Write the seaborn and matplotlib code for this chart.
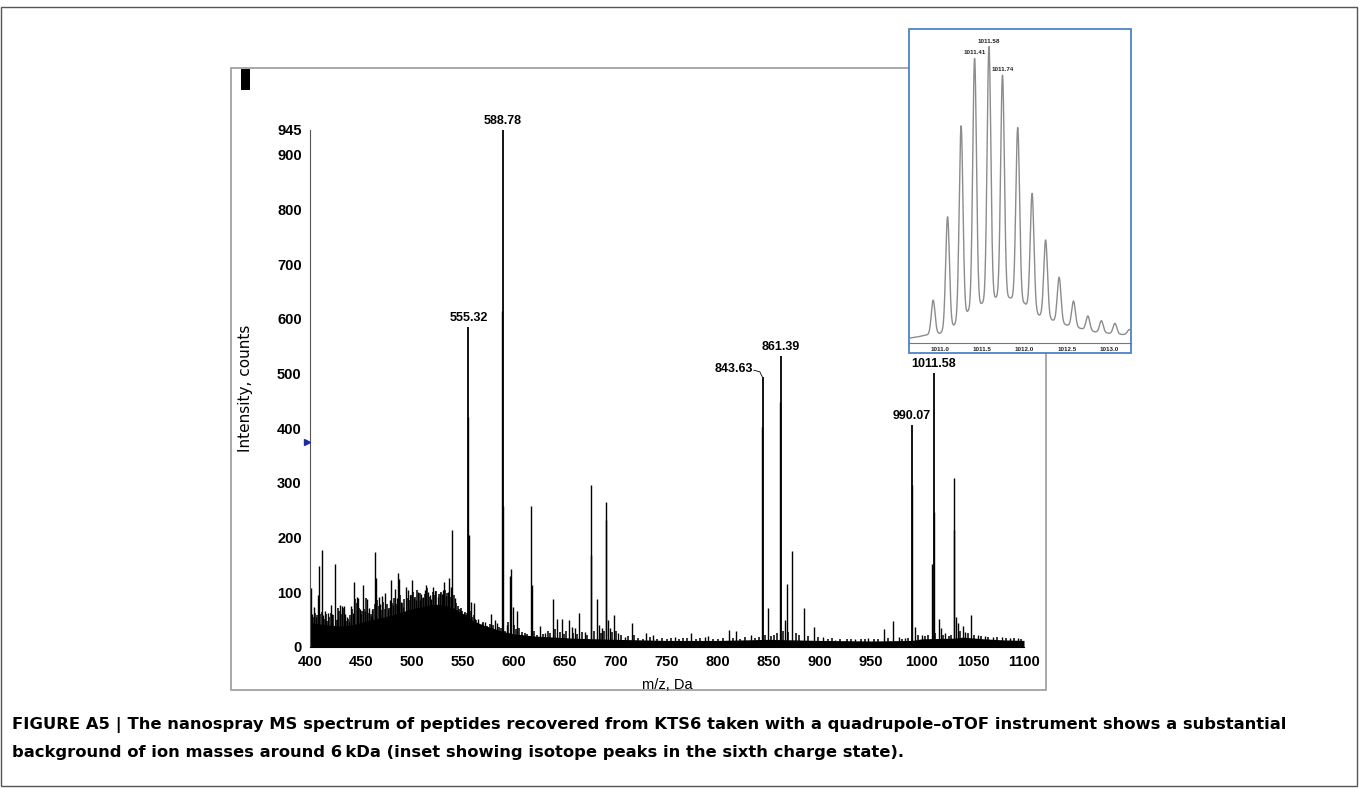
# Nanospray MS spectrum of KTS6 peptides with isotope-cluster inset
import matplotlib
matplotlib.use("Agg")
import matplotlib.pyplot as plt
from matplotlib.patches import Rectangle
import numpy as np
import pandas as pd
import seaborn as sns

# solid background level under the spectrum (m/z, counts)
bg_mz = [400, 410, 420, 430, 440, 450, 460, 470, 480, 490, 500, 510, 520, 530, 540,
         550, 560, 570, 580, 590, 600, 620, 640, 660, 680, 700, 750, 800, 850, 900,
         950, 990, 1000, 1030, 1040, 1060, 1080, 1100]
bg_int = [45, 42, 40, 38, 40, 45, 50, 54, 58, 64, 70, 74, 78, 78, 72,
          60, 48, 40, 34, 28, 24, 20, 18, 16, 15, 14, 12, 12, 14, 12,
          11, 12, 15, 16, 18, 15, 13, 12]

# dense low-level signal
grass_mz = [401, 403, 405, 407, 410, 412, 414, 416, 417, 419, 421, 423, 425, 427, 428,
            430, 432, 435, 437, 439, 441, 444, 446, 448, 450, 451, 453, 455, 457, 460,
            462, 464, 466, 468, 470, 472, 474, 475, 477, 480, 482, 484, 488, 490, 492,
            495, 497, 499, 501, 503, 505, 508, 510, 513, 515, 518, 521, 522, 524, 526,
            528, 532, 534, 537, 541, 543, 545, 546, 548, 549, 550, 552, 553, 554, 556,
            557, 559, 561, 562, 563, 566, 570, 574, 576, 579, 585, 587, 591, 594, 600,
            602, 605, 608, 611, 613, 620, 623, 628, 633, 635, 640, 645, 649, 651, 658,
            662, 667, 672, 678, 685, 688, 696, 700, 705, 712, 718, 722, 726, 733, 740,
            745, 750, 754, 762, 766, 770, 778, 782, 795, 800, 805, 815, 822, 826, 836,
            840, 846, 852, 855, 858, 864, 869, 876, 879, 888, 898, 908, 912, 920, 926,
            930, 940, 944, 953, 957, 967, 980, 986, 996, 1003, 1006, 1013, 1021, 1026,
            1028, 1037, 1045, 1051, 1058, 1065, 1074, 1082, 1090, 1097]
grass_int = [70, 55, 62, 58, 60, 64, 52, 60, 48, 55, 62, 58, 50, 72, 66,
             60, 72, 48, 52, 58, 70, 88, 80, 72, 60, 66, 70, 90, 62, 60,
             70, 78, 85, 75, 68, 82, 70, 78, 72, 80, 90, 78, 95, 80, 88,
             90, 85, 95, 100, 92, 105, 98, 90, 96, 108, 92, 100, 95, 102, 96,
             100, 104, 98, 92, 95, 80, 75, 70, 72, 66, 60, 64, 58, 62, 70,
             66, 55, 58, 52, 50, 40, 45, 38, 42, 40, 36, 34, 30, 45, 40,
             32, 35, 28, 26, 24, 30, 22, 24, 30, 26, 32, 28, 24, 30, 25,
             24, 28, 22, 30, 26, 30, 28, 30, 22, 20, 22, 17, 15, 18, 15,
             17, 14, 16, 15, 17, 16, 14, 16, 15, 14, 17, 16, 15, 18, 16,
             18, 22, 20, 22, 25, 30, 28, 25, 22, 20, 18, 15, 16, 14, 15,
             14, 15, 14, 15, 14, 16, 15, 16, 22, 20, 22, 25, 22, 20,
             22, 30, 25, 22, 20, 19, 18, 17, 16, 15]

# unlabelled peaks
minor_mz = [400.7, 402, 404, 406, 408, 409, 411.4, 413, 415, 418, 420.6, 422, 424.5, 426,
            429, 431, 433, 434, 436.6, 438, 440, 442, 443.5, 445.8, 447.4, 449, 452, 454,
            456, 458, 459.8, 461, 463.7, 465, 467.6, 469, 471, 473.5, 476, 478, 479, 481.6,
            483, 485, 486, 487, 489, 491.5, 493.8, 496, 498, 500, 502, 504.4, 506, 507.6,
            509, 511, 512.6, 514, 516, 517.6, 519, 520.9, 523, 525.8, 527, 529, 530.7,
            531.7, 533, 535, 536, 538, 539.6, 542, 544, 547, 551.4, 555.0, 555.6, 557.9,
            560.5, 564.5, 568.4, 571.7, 577.6, 581.5, 583, 588.5, 589.1, 593, 595.6, 596.6,
            598.9, 603, 606, 616.7, 617.2, 625.6, 630.6, 637.8, 642, 646.9, 654, 656.8,
            660, 663.5, 670, 675.6, 675.9, 681, 683.4, 686, 689.9, 690.3, 691.7, 694,
            698.5, 702.4, 709, 715.4, 729, 736, 758, 773.5, 787.5, 790.5, 811, 817.6, 832,
            843.4, 849.5, 861.2, 865.7, 867.3, 872.9, 884.5, 894, 903, 915, 934, 947.4,
            962.5, 971.8, 977.4, 983, 990.3, 993, 1000, 1010, 1011.8, 1016.6, 1019, 1023,
            1031.0, 1031.3, 1033, 1035.5, 1039.8, 1042, 1048, 1055, 1062, 1070, 1078,
            1086, 1094]
minor_int = [107, 60, 74, 55, 95, 148, 178, 58, 65, 63, 77, 60, 151, 52,
             77, 75, 75, 60, 55, 48, 75, 62, 118, 91, 89, 70, 113, 66,
             87, 72, 57, 68, 173, 126, 92, 78, 93, 98, 70, 85, 123, 77,
             106, 90, 135, 124, 82, 73, 110, 104, 95, 123, 90, 86, 100, 86,
             96, 92, 104, 113, 100, 95, 88, 110, 102, 92, 98, 96, 104,
             119, 93, 100, 126, 110, 214, 90, 68, 69, 62, 420, 205, 83,
             81, 51, 43, 46, 60, 49, 44, 614, 258, 40, 129, 142,
             74, 65, 22, 258, 113, 38, 25, 88, 51, 51, 49, 36,
             34, 63, 28, 297, 168, 87, 40, 34, 265, 233, 49, 34,
             59, 25, 19, 44, 25, 22, 18, 25, 19, 20, 31, 29, 22,
             402, 72, 448, 49, 115, 176, 71, 36, 18, 13, 14, 16,
             32, 48, 19, 16, 296, 37, 22, 152, 247, 51, 34, 25,
             308, 214, 55, 43, 38, 28, 58, 22, 20, 19, 18,
             17, 16]

# labelled peaks
major_mz = [555.32, 588.78, 843.63, 861.39, 990.07, 1011.58]
major_int = [585, 945, 494, 532, 406, 501]
major_lbl = ["555.32", "588.78", "843.63", "861.39", "990.07", "1011.58"]

# inset: isotope cluster of the 6+ ion (relative intensity, %)
iso_mz = [1010.74, 1010.92, 1011.09, 1011.25, 1011.41, 1011.58, 1011.74, 1011.92,
          1012.09, 1012.25, 1012.41, 1012.58, 1012.75, 1012.91, 1013.07, 1013.24]
iso_int = [1.1, 13.6, 42, 73, 96, 100, 90.3, 72.4, 50, 34.1, 21.4, 13.3, 8.2, 6.6, 5.7, 3.6]
valley_mz = [1010.63, 1010.83, 1011.0, 1011.17, 1011.33, 1011.5, 1011.66, 1011.83, 1012.0,
             1012.17, 1012.33, 1012.5, 1012.66, 1012.83, 1013.0, 1013.16, 1013.27]
valley_int = [0.6, 1.7, 2.3, 5.1, 9.7, 12.5, 14.4, 14.4, 12.5, 8.5, 6.8, 5.1, 4.0, 2.8,
              2.3, 1.9, 1.9]
iso_lbl_mz = [1011.41, 1011.58, 1011.74]

caption1 = ("FIGURE A5 | The nanospray MS spectrum of peptides recovered from KTS6 taken with "
            "a quadrupole\u2013oTOF instrument shows a substantial")
caption2 = ("background of ion masses around 6\u2009kDa (inset showing isotope peaks in the "
            "sixth charge state).")

sns.set_style("white")
plt.rcParams['font.family'] = ['Liberation Sans', 'DejaVu Sans']
plt.rcParams['text.color'] = 'black'
plt.rcParams['axes.labelcolor'] = 'black'
plt.rcParams['xtick.labelcolor'] = 'black'
plt.rcParams['ytick.labelcolor'] = 'black'

W, H = 1359, 789
fig = plt.figure(figsize=(W / 100, H / 100), dpi=100)


def fx(px):
    return px / W


def fy(py):
    return 1 - py / H


# frames
fig.add_artist(Rectangle((fx(1), fy(786)), 1356 / W, 779 / H, transform=fig.transFigure,
                         fill=False, ec='#555555', lw=1.0, zorder=0))
fig.add_artist(Rectangle((fx(231), fy(690)), 815 / W, 622 / H, transform=fig.transFigure,
                         fill=False, ec='#9a9a9a', lw=1.2, zorder=0.5))
fig.add_artist(Rectangle((fx(241), fy(90)), 9 / W, 21 / H, transform=fig.transFigure,
                         fc='black', ec='none', zorder=0.5))

# main spectrum
ax = fig.add_axes([fx(310), fy(647), (1024 - 310) / W, (647 - 130) / H])
ax.set_zorder(1)
ax.patch.set_alpha(0)
ax.fill_between(bg_mz, 0, bg_int, color='black', lw=0)
ax.vlines(grass_mz, 0, grass_int, color='black', lw=1.1)
ax.vlines(minor_mz, 0, minor_int, color='black', lw=1.0)
ax.vlines(major_mz, 0, major_int, color='black', lw=1.3)

for mz, y, lbl in zip(major_mz, major_int, major_lbl):
    if lbl == "843.63":
        ax.text(834.5, y + 14, lbl, ha='right', va='center', fontsize=9, fontweight='bold')
        ax.plot([835, 841, 843.4], [y + 12, y + 9, y], color='black', lw=0.6)
    else:
        ax.text(mz, y + 16, lbl, ha='center', va='center', fontsize=9,
                fontweight='bold', clip_on=False)

ax.plot([397], [375], marker='>', ms=5, color='#1f2a9c', clip_on=False, zorder=5)

ax.set_xlim(400, 1100)
ax.set_ylim(0, 945)
ax.set_xticks(np.arange(400, 1101, 50))
ax.set_xticks(np.arange(400, 1101, 10), minor=True)
ax.set_yticks(list(range(0, 901, 100)) + [945])
ax.set_yticks(np.arange(50, 901, 100), minor=True)
ax.tick_params(axis='both', which='major', direction='out', length=4, width=0.8,
               color='#444444', labelsize=10.5, pad=2, labelcolor='black')
ax.tick_params(axis='both', which='minor', direction='out', length=2, width=0.6,
               color='#444444')
for t in ax.get_xticklabels() + ax.get_yticklabels():
    t.set_fontweight('bold')
for s in ['top', 'right']:
    ax.spines[s].set_visible(False)
ax.spines['left'].set_color('#555555')
ax.spines['left'].set_linewidth(0.8)
ax.spines['bottom'].set_color('black')
ax.spines['bottom'].set_linewidth(0.8)
ax.set_xlabel('m/z, Da', fontsize=10.5, labelpad=6)
ax.set_ylabel('Intensity, counts', fontsize=11, family=['DejaVu Sans'], labelpad=17)

# inset
fig.add_artist(Rectangle((fx(909), fy(353)), 222 / W, 324 / H, transform=fig.transFigure,
                         fc='white', ec='#4f81c7', lw=1.3, zorder=2))
ax2 = fig.add_axes([fx(909), fy(343), 222 / W, (343 - 29) / H])
ax2.set_zorder(3)
ax2.patch.set_alpha(0)

x = np.linspace(1010.634, 1013.26, 1600)
bg = np.interp(x, valley_mz, valley_int)
trace = bg.copy()
for c, h in zip(iso_mz, iso_int):
    trace += (h - np.interp(c, valley_mz, valley_int)) * np.exp(-(x - c) ** 2 / (2 * 0.022 ** 2))
df = pd.DataFrame({'mz': x, 'rel': trace})
sns.lineplot(data=df, x='mz', y='rel', ax=ax2, color='#8c8c8c', lw=1.0)

for c in iso_lbl_mz:
    h = iso_int[iso_mz.index(c)]
    ax2.text(c, h + 1.0, f"{c:.2f}", ha='center', va='bottom', fontsize=4.5,
             fontweight='bold', color='#222222')

ax2.set_xlim(1010.634, 1013.26)
ax2.set_ylim(-1.0, 106)
ax2.set_xticks([1011.0, 1011.5, 1012.0, 1012.5, 1013.0])
ax2.set_xticklabels(['1011.0', '1011.5', '1012.0', '1012.5', '1013.0'])
ax2.set_xticks(np.arange(1010.7, 1013.26, 0.1), minor=True)
ax2.set_yticks([])
ax2.tick_params(axis='x', which='major', direction='out', length=2, width=0.5,
                color='#666666', labelsize=4.5, pad=0.8, labelcolor='#222222')
ax2.tick_params(axis='x', which='minor', direction='out', length=1, width=0.4,
                color='#666666')
for t in ax2.get_xticklabels():
    t.set_fontweight('bold')
for s in ['top', 'right', 'left']:
    ax2.spines[s].set_visible(False)
ax2.spines['bottom'].set_color('#777777')
ax2.spines['bottom'].set_linewidth(0.8)
ax2.set_xlabel('')
ax2.set_ylabel('')

# caption
fig.text(fx(12), fy(725), caption1, fontsize=11.8, fontweight='bold', va='center',
         family=['DejaVu Sans'], color='black')
fig.text(fx(12), fy(752), caption2, fontsize=11.8, fontweight='bold', va='center',
         family=['DejaVu Sans'], color='black')

fig.savefig('out.png', dpi=100)
